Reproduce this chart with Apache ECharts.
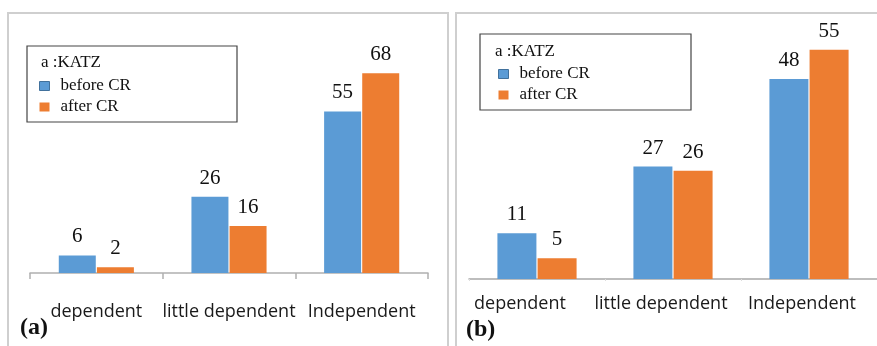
<!DOCTYPE html>
<html><head><meta charset="utf-8">
<script src="https://cdn.jsdelivr.net/npm/echarts@6/dist/echarts.min.js"></script>
<style>html,body{margin:0;padding:0;background:#fff}#c{width:877px;height:346px}</style>
</head><body><div id="c"></div>
<script>
const categories = ['dependent', 'little dependent', 'Independent'];
const seriesNames = ['before CR', 'after CR'];
const beforeA = [6, 26, 55];
const afterA = [2, 16, 68];
const beforeB = [11, 27, 48];
const afterB = [5, 26, 55];
const legendTitle = 'a :KATZ';
const panelTags = ['(a)', '(b)'];

const BLUE = '#5B9BD5', ORANGE = '#ED7D31';
const serif = '"Liberation Serif", "Times New Roman", serif';
const sans = '"Open Sans", sans-serif';
const labelShiftB = [34, 24, 14];

const chart = echarts.init(document.getElementById('c'), null, {renderer: 'canvas'});

function valueLabel() {
  return {show: true, position: 'top', distance: 8, fontFamily: serif, fontSize: 21, color: '#111'};
}
function bar(name, data, idx, color, width) {
  return {
    type: 'bar', name: name, data: data, xAxisIndex: idx, yAxisIndex: idx,
    barWidth: width, barGap: '3%',
    itemStyle: {color: color},
    label: valueLabel(), emphasis: {disabled: true}, animation: false
  };
}
function legend(left, top) {
  return {
    left: left, top: top, orient: 'vertical', itemWidth: 10, itemHeight: 9, itemGap: 1,
    icon: 'rect', selectedMode: false,
    textStyle: {fontFamily: serif, fontSize: 17, color: '#111', lineHeight: 20, padding: [0, 0, 0, 6]},
    data: [
      {name: seriesNames[0], itemStyle: {borderColor: '#41719C', borderWidth: 1}},
      {name: seriesNames[1]}
    ]
  };
}

chart.setOption({
  animation: false,
  grid: [
    {left: 30, width: 398, top: 38, bottom: 73},
    {left: 469, width: 412, top: 29, bottom: 67}
  ],
  xAxis: [
    {type: 'category', gridIndex: 0, data: categories,
     axisLine: {lineStyle: {color: '#b0b0b0', width: 1.5}},
     axisTick: {show: true, length: 6, lineStyle: {color: '#b0b0b0', width: 1.5}},
     axisLabel: {margin: 30, fontFamily: sans, fontSize: 18, color: '#1a1a1a', interval: 0}},
    {type: 'category', gridIndex: 1,
     data: categories.map((c, i) => ({value: c, textStyle: {padding: [0, labelShiftB[i], 0, 0]}})),
     axisLine: {lineStyle: {color: '#a8a8a8', width: 1.5}},
     axisTick: {show: true, length: 2, lineStyle: {color: '#dddddd'}},
     axisLabel: {margin: 16, fontFamily: sans, fontSize: 18, color: '#1a1a1a', interval: 0}}
  ],
  yAxis: [
    {type: 'value', gridIndex: 0, min: 0, max: 80, show: false, splitLine: {show: false}},
    {type: 'value', gridIndex: 1, min: 0, max: 60, show: false, splitLine: {show: false}}
  ],
  legend: [legend(34, 71), legend(493, 59)],
  series: [
    bar(seriesNames[0], beforeA, 0, BLUE, 37),
    bar(seriesNames[1], afterA, 0, ORANGE, 37),
    bar(seriesNames[0], beforeB, 1, BLUE, 39),
    bar(seriesNames[1], afterB, 1, ORANGE, 39)
  ],
  graphic: [
    {type: 'rect', shape: {x: 8, y: 13, width: 440, height: 345}, style: {fill: null, stroke: '#cfcfcf', lineWidth: 2}, silent: true, z: -1},
    {type: 'rect', shape: {x: 456, y: 13, width: 430, height: 345}, style: {fill: null, stroke: '#cfcfcf', lineWidth: 2}, silent: true, z: -1},
    {type: 'rect', shape: {x: 27, y: 46, width: 210, height: 76}, style: {fill: null, stroke: '#444', lineWidth: 1.2}, silent: true},
    {type: 'rect', shape: {x: 480, y: 34, width: 211, height: 76}, style: {fill: null, stroke: '#444', lineWidth: 1.2}, silent: true},
    {type: 'text', x: 41, y: 63, style: {text: legendTitle, font: '17px ' + serif, fill: '#111', textVerticalAlign: 'middle'}, silent: true},
    {type: 'text', x: 495, y: 52, style: {text: legendTitle, font: '17px ' + serif, fill: '#111', textVerticalAlign: 'middle'}, silent: true},
    {type: 'text', x: 20, y: 328, style: {text: panelTags[0], font: 'bold 24px ' + serif, fill: '#111', textVerticalAlign: 'middle'}, silent: true},
    {type: 'text', x: 466, y: 330, style: {text: panelTags[1], font: 'bold 24px ' + serif, fill: '#111', textVerticalAlign: 'middle'}, silent: true}
  ]
});
</script></body></html>
